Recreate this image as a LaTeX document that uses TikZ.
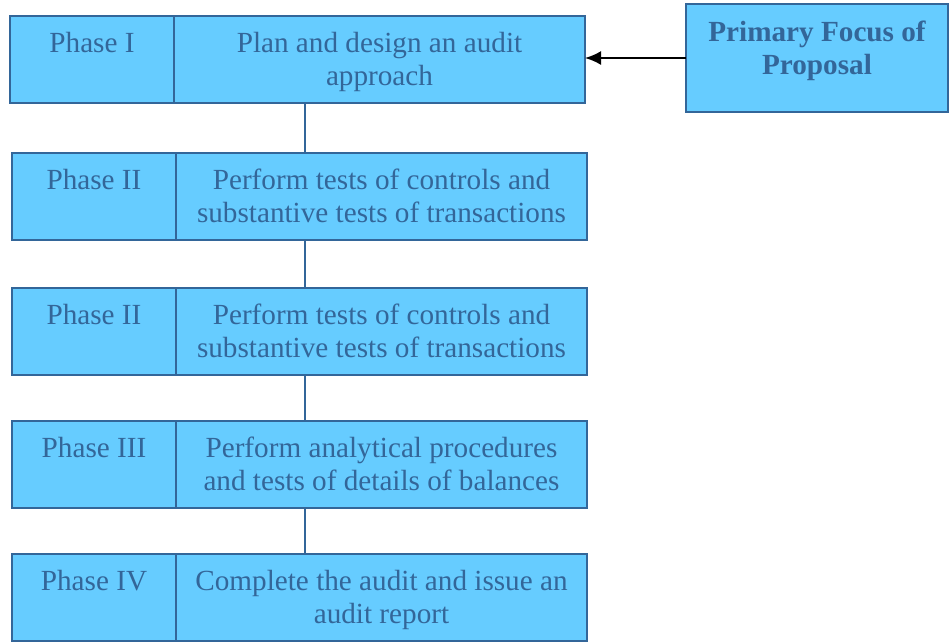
\documentclass[tikz,border=0pt]{standalone}
\usepackage{fontspec}
\setmainfont{Liberation Serif}
\usetikzlibrary{positioning, arrows.meta}
\definecolor{cellblue}{HTML}{66CCFF}
\definecolor{edgeblue}{HTML}{336699}

\begin{document}
\begin{tikzpicture}[x=1pt, y=-1pt,
		cell/.style={draw=edgeblue, fill=cellblue, line width=2.2pt, outer sep=0pt,
			align=center, text=edgeblue, minimum height=87pt,
			text height=58pt, text depth=6pt,
			font=\fontsize{29.2pt}{33pt}\selectfont},
		phasecell/.style={cell, minimum width=164pt, text height=25pt, text depth=39pt},
		desccell/.style={cell, minimum width=411pt},
		link/.style={draw=edgeblue, line width=2.2pt}]
		\useasboundingbox (0,0) rectangle (950,641);
		
		\node[phasecell] (phaseI) at (92,59.5) {Phase I};
		\node[desccell, right=0pt of phaseI] (descI) {Plan and design an audit\\approach};
		
		\node[phasecell] (phaseII) at (94,196.5) {Phase II};
		\node[desccell, right=0pt of phaseII] (descII) {Perform tests of controls and\\substantive tests of transactions};
		
		\node[phasecell] (phaseIIb) at (94,331.5) {Phase II};
		\node[desccell, right=0pt of phaseIIb] (descIIb) {Perform tests of controls and\\substantive tests of transactions};
		
		\node[phasecell] (phaseIII) at (94,464.5) {Phase III};
		\node[desccell, right=0pt of phaseIII] (descIII) {Perform analytical procedures\\and tests of details of balances};
		
		\node[phasecell] (phaseIV) at (94,597.5) {Phase IV};
		\node[desccell, right=0pt of phaseIV] (descIV) {Complete the audit and issue an\\audit report};
		
		\node[cell, minimum width=262pt, minimum height=108pt, text height=53pt, text depth=21pt,
			font=\fontsize{29.2pt}{33pt}\selectfont\bfseries] (focus) at (817,58) {Primary Focus of\\Proposal};
		
		% spine between the phases
		\coordinate (spine) at (305,0);
		\foreach \a/\b in {descI/descII, descII/descIIb, descIIb/descIII, descIII/descIV}
			\draw[link] (\a.south -| spine) -- (\b.north -| spine);
		
		\draw[line width=2pt, -{Latex[length=16pt, width=14pt]}] (focus.west) -- (focus.west -| descI.east);
\end{tikzpicture}
\end{document}
